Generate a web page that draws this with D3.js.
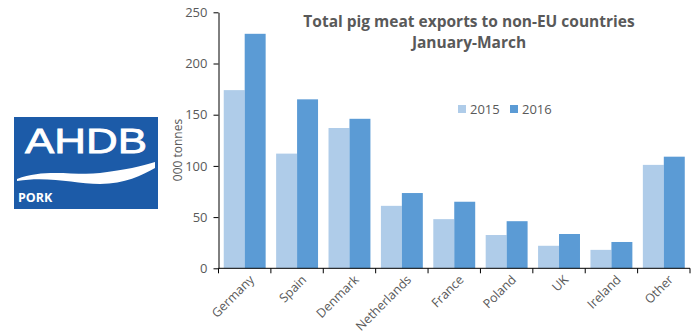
<!DOCTYPE html>
<html><head><meta charset="utf-8">
<script src="https://cdn.jsdelivr.net/npm/d3@7"></script>
<style>body{margin:0;background:#fff;} svg{display:block;}</style>
</head><body>
<svg id="c" width="700" height="336"></svg>
<script>
const categories = ["Germany","Spain","Denmark","Netherlands","France","Poland","UK","Ireland","Other"];
const series2015 = [174,112,137,61,48,32.5,22,18,101];
const series2016 = [229,165,146,73.5,65,46,33.5,25.7,109];
const seriesNames = ["2015","2016"];
const yTicks = [0,50,100,150,200,250];

const svg = d3.select("#c");
const textCol = "#595959";
const font = "'Open Sans', 'Liberation Sans', sans-serif";
const colors = ["#afcce9","#5b9bd5"];

// Logo
const logo = svg.append("g");
logo.append("rect").attr("x",14).attr("y",117).attr("width",144).attr("height",92).attr("fill","#1c5ba8");
logo.append("text").attr("x",25).attr("y",153).attr("fill","#fff").attr("stroke","#fff").attr("stroke-width",0.8)
  .attr("font-family","'Liberation Sans', Arial, sans-serif").attr("font-size",35).attr("textLength",122).attr("lengthAdjust","spacingAndGlyphs").text("AHDB");
logo.append("path").attr("fill","#fff")
  .attr("d","M17,179 C45,168 75,176 100,173 C125,170 142,166 155,162 L155,168 C142,175 125,184 100,184 C75,184 50,176 17,181 Z");
logo.append("text").attr("x",18).attr("y",202).attr("fill","#fff").attr("font-family",font)
  .attr("font-weight","bold").attr("font-size",12.5).text("PORK");

// Chart
const x0 = 218.5, x1 = 690, yBase = 268.3, yTop = 12.3;
const x = d3.scaleBand().domain(categories).range([x0,x1]).paddingInner(0).paddingOuter(0);
const y = d3.scaleLinear().domain([0,250]).range([yBase,yTop]);
const bw = x.bandwidth();
const inner = d3.scaleBand().domain(seriesNames).range([bw*0.1, bw*0.9]);

const data = categories.map((c,i)=>({c, vals:[series2015[i], series2016[i]]}));
const g = svg.append("g");
data.forEach(d=>{
  d.vals.forEach((v,j)=>{
    g.append("rect").attr("x", x(d.c)+inner(seriesNames[j])).attr("width", inner.bandwidth())
      .attr("y", y(v)).attr("height", yBase - y(v)).attr("fill", colors[j]);
  });
});

// Y axis
const yAxis = d3.axisLeft(y).tickValues(yTicks).tickSize(5).tickPadding(6).tickSizeOuter(0);
const ya = svg.append("g").attr("transform",`translate(${x0},0)`).call(yAxis);
ya.select(".domain").attr("stroke","#000");
ya.selectAll(".tick line").attr("stroke","#000");
ya.selectAll("text").attr("fill",textCol).attr("font-family",font).attr("font-size",13);

// X axis: ticks at category boundaries
const xa = svg.append("g").attr("transform",`translate(0,${yBase})`);
xa.append("line").attr("x1",x0).attr("x2",x1).attr("stroke","#000");
const bounds = categories.map(c=>x(c)).concat([x1]);
xa.selectAll("line.t").data(bounds).enter().append("line").attr("class","t")
  .attr("x1",d=>d).attr("x2",d=>d).attr("y1",0).attr("y2",5).attr("stroke","#000");
xa.selectAll("text").data(categories).enter().append("text")
  .attr("transform",d=>`translate(${x(d)+bw/2+4},${6}) rotate(-45)`)
  .attr("text-anchor","end").attr("dy","0.7em")
  .attr("fill",textCol).attr("font-family",font).attr("font-size",12.5).text(d=>d);

// Y label
svg.append("text").attr("transform","translate(182,150) rotate(-90)").attr("text-anchor","middle")
  .attr("fill",textCol).attr("font-family",font).attr("font-size",12).text("000 tonnes");

// Title
const t = svg.append("text").attr("text-anchor","middle").attr("fill",textCol)
  .attr("font-family",font).attr("font-weight","bold").attr("font-size",15.5);
t.append("tspan").attr("x",469).attr("y",27).text("Total pig meat exports to non-EU countries");
t.append("tspan").attr("x",469).attr("y",48).text("January-March");

// Legend
const lg = svg.append("g");
const legX = [458,510];
seriesNames.forEach((s,i)=>{
  lg.append("rect").attr("x",legX[i]).attr("y",105).attr("width",8).attr("height",8).attr("fill",colors[i]);
  lg.append("text").attr("x",legX[i]+12).attr("y",114).attr("fill",textCol).attr("font-family",font)
    .attr("font-size",13).text(s);
});
</script>
</body></html>
